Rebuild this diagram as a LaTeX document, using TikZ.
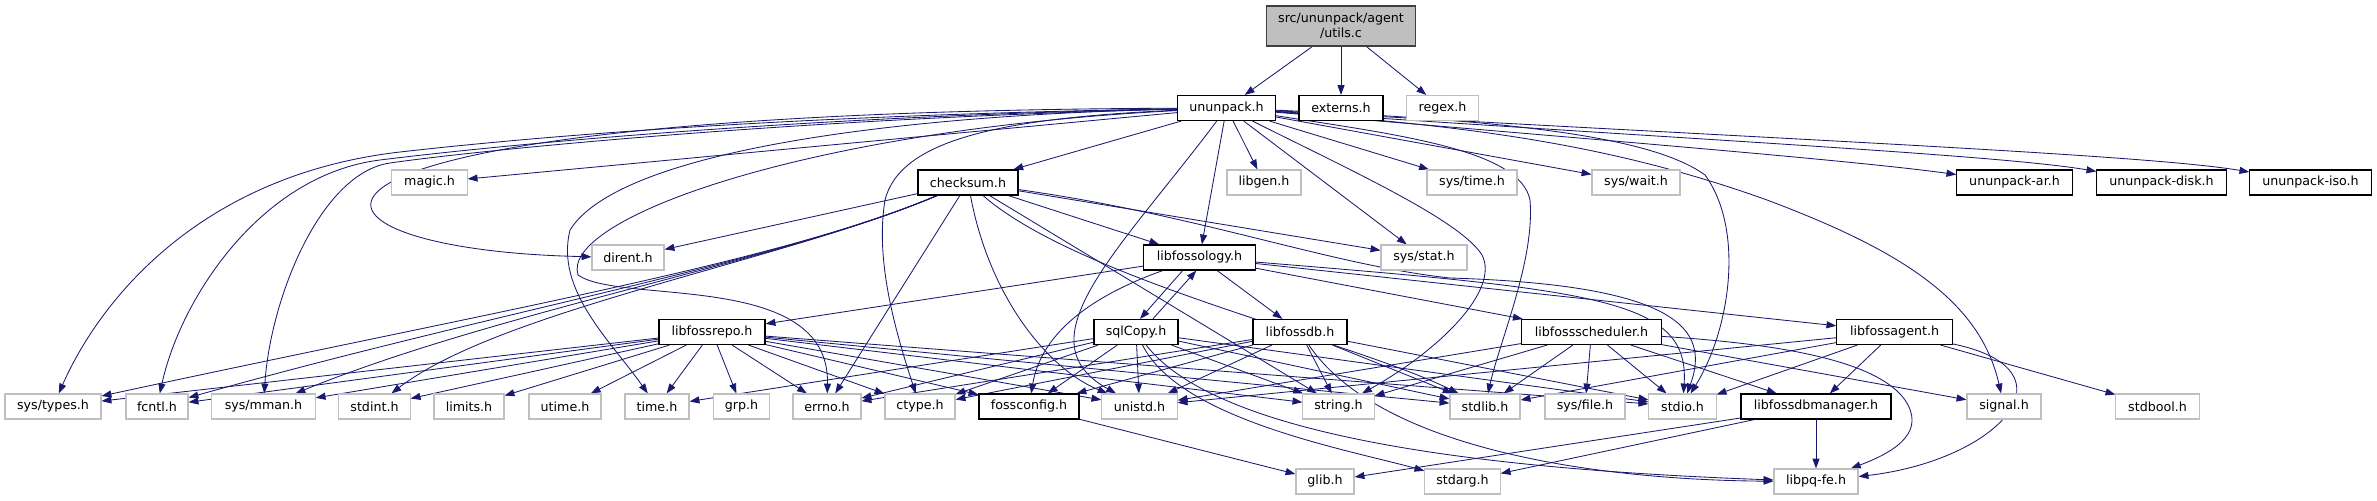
\documentclass[tikz,border=0pt]{standalone}
\usepackage{fontspec}
\setmainfont{DejaVu Sans}
\usetikzlibrary{arrows.meta,backgrounds}
\definecolor{edgeblue}{HTML}{191970}
\definecolor{sysgray}{HTML}{BFBFBF}
\definecolor{rootgray}{HTML}{404040}

\begin{document}
\begin{tikzpicture}[x=0.025cm, y=-0.025cm,
    every node/.style={rectangle, fill=white, inner sep=0pt, minimum height=0.625cm,
      font=\fontsize{9}{10.5}\selectfont},
    hdr/.style={draw=black, line width=0.8pt},
    sys/.style={draw=sysgray, line width=0.8pt},
    dep/.style={draw=edgeblue, line width=0.6pt, -{Triangle[length=7pt,width=5pt]}}]
    \useasboundingbox (0,0) rectangle (2377,500);

    % file and its direct includes
    \node[draw=rootgray, fill=sysgray, line width=0.8pt, align=center, minimum width=3.73cm, minimum height=1cm]
      (root) at (1341,26) {src/ununpack/agent\\/utils.c};
    \node[hdr, minimum width=2.43cm] (ununpack) at (1226.5,108) {ununpack.h};
    \node[hdr, minimum width=2.1cm] (externs) at (1341,108) {externs.h};
    \node[sys, minimum width=1.78cm] (regex) at (1442.5,108) {regex.h};

    % second row
    \node[sys, minimum width=1.88cm] (magic) at (429.5,182.5) {magic.h};
    \node[hdr, minimum width=2.5cm] (checksum) at (968,182.5) {checksum.h};
    \node[sys, minimum width=1.85cm] (libgen) at (1264,182.5) {libgen.h};
    \node[sys, minimum width=2.25cm] (systime) at (1472,182.5) {sys/time.h};
    \node[sys, minimum width=2.2cm] (syswait) at (1636,182.5) {sys/wait.h};
    \node[hdr, minimum width=2.88cm] (ar) at (2014.5,182.5) {ununpack-ar.h};
    \node[hdr, minimum width=3.23cm] (disk) at (2161.5,182.5) {ununpack-disk.h};
    \node[hdr, minimum width=3.03cm] (iso) at (2310.5,182.5) {ununpack-iso.h};

    % third row
    \node[sys, minimum width=1.8cm] (dirent) at (628,257.5) {dirent.h};
    \node[hdr, minimum width=2.78cm] (libfossology) at (1199.5,257.5) {libfossology.h};
    \node[sys, minimum width=2.15cm] (sysstat) at (1424,257.5) {sys/stat.h};

    % fourth row
    \node[hdr, minimum width=2.65cm] (libfossrepo) at (712,332) {libfossrepo.h};
    \node[hdr, minimum width=2.1cm] (sqlCopy) at (1136,332) {sqlCopy.h};
    \node[hdr, minimum width=2.35cm] (libfossdb) at (1300,332) {libfossdb.h};
    \node[hdr, minimum width=3.48cm] (libfossscheduler) at (1591.5,332) {libfossscheduler.h};
    \node[hdr, minimum width=2.88cm] (libfossagent) at (1894.5,332) {libfossagent.h};

    % fifth row
    \node[sys, minimum width=2.4cm] (systypes) at (53,406.5) {sys/types.h};
    \node[sys, minimum width=1.55cm] (fcntl) at (157,406.5) {fcntl.h};
    \node[sys, minimum width=2.58cm] (sysmman) at (263.5,406.5) {sys/mman.h};
    \node[sys, minimum width=1.78cm] (stdint) at (374.5,406.5) {stdint.h};
    \node[sys, minimum width=1.75cm] (limits) at (469,406.5) {limits.h};
    \node[sys, minimum width=1.8cm] (utime) at (565,406.5) {utime.h};
    \node[sys, minimum width=1.6cm] (time) at (657,406.5) {time.h};
    \node[sys, minimum width=1.38cm] (grp) at (741.5,406.5) {grp.h};
    \node[sys, minimum width=1.7cm] (errno) at (827,406.5) {errno.h};
    \node[sys, minimum width=1.75cm] (ctype) at (920,406.5) {ctype.h};
    \node[hdr, minimum width=2.5cm] (fossconfig) at (1029,406.5) {fossconfig.h};
    \node[sys, minimum width=1.88cm] (unistd) at (1139.5,406.5) {unistd.h};
    \node[sys, minimum width=1.78cm] (string) at (1338.5,406.5) {string.h};
    \node[sys, minimum width=1.75cm] (stdlib) at (1485,406.5) {stdlib.h};
    \node[sys, minimum width=2cm] (sysfile) at (1585,406.5) {sys/file.h};
    \node[sys, minimum width=1.68cm] (stdio) at (1682.5,406.5) {stdio.h};
    \node[hdr, minimum width=3.75cm] (libfossdbmanager) at (1816,406.5) {libfossdbmanager.h};
    \node[sys, minimum width=1.85cm] (signal) at (2004,406.5) {signal.h};
    \node[sys, minimum width=2.08cm] (stdbool) at (2157.5,406.5) {stdbool.h};

    % last row
    \node[sys, minimum width=1.45cm] (glib) at (1325,481.5) {glib.h};
    \node[sys, minimum width=1.88cm] (stdarg) at (1462.5,481.5) {stdarg.h};
    \node[sys, minimum width=2.1cm] (libpqfe) at (1816,481.5) {libpq-fe.h};

    \begin{scope}[on background layer]
    % utils.c
    \foreach \dst in {ununpack,externs,regex}
      \draw[dep] (root) -- (\dst);

    % ununpack.h
    \foreach \dst in {checksum,libfossology,libgen,systime,syswait,sysstat,magic}
      \draw[dep] (ununpack) -- (\dst);
    \draw[dep] (ununpack) .. controls (800,115) and (550,135) .. (400,152)
      .. controls (200,175) and (100,300) .. (systypes);
    \draw[dep] (ununpack) .. controls (800,116) and (500,145) .. (380,160)
      .. controls (260,175) and (180,300) .. (fcntl);
    \draw[dep] (ununpack) .. controls (800,118) and (480,150) .. (390,163)
      .. controls (320,173) and (270,300) .. (sysmman);
    \draw[dep] (ununpack) .. controls (200,112) and (260,250) .. (dirent);
    \draw[dep] (ununpack) .. controls (900,115) and (620,150) .. (570,230)
      .. controls (555,290) and (610,340) .. (time);
    \draw[dep] (ununpack) .. controls (800,130) and (560,220) .. (578,275)
      .. controls (620,305) and (830,270) .. (errno);
    \draw[dep] (ununpack) .. controls (1000,118) and (900,140) .. (885,200)
      .. controls (875,260) and (895,330) .. (ctype);
    \draw[dep] (ununpack) .. controls (1120,250) and (1020,340) .. (unistd);
    \draw[dep] (ununpack) .. controls (1400,135) and (1520,150) .. (1530,200)
      .. controls (1535,260) and (1500,340) .. (stdlib);
    \draw[dep] (ununpack) .. controls (1350,170) and (1460,220) .. (1482,255)
      .. controls (1500,290) and (1440,350) .. (string);
    \draw[dep] (ununpack) .. controls (1500,120) and (1650,135) .. (1705,175)
      .. controls (1745,230) and (1730,330) .. (stdio);
    \draw[dep] (ununpack) .. controls (1450,125) and (1600,140) .. (1767,200)
      .. controls (1900,250) and (1980,300) .. (signal);
    \draw[dep] (ununpack) .. controls (1600,140) and (1850,160) .. (ar);
    \draw[dep] (ununpack) .. controls (1700,140) and (2000,155) .. (disk);
    \draw[dep] (ununpack) .. controls (1800,140) and (2150,155) .. (iso);

    % checksum.h
    \foreach \dst in {libfossology,dirent,errno,string,sysstat}
      \draw[dep] (checksum) -- (\dst);
    \foreach \dst in {systypes,fcntl,sysmman,stdint}
      \draw[dep] (checksum) .. controls (780,262) and (500,310) .. (\dst);
    \draw[dep] (checksum) .. controls (990,300) and (1050,370) .. (unistd);
    \draw[dep] (checksum) .. controls (1080,280) and (1350,340) .. (stdlib);
    \draw[dep] (checksum) .. controls (1200,215) and (1330,265) .. (1450,278)
      .. controls (1680,285) and (1710,330) .. (stdio);

    % libfossology.h
    \foreach \dst in {libfossrepo,libfossdb,libfossscheduler,libfossagent}
      \draw[dep] (libfossology) -- (\dst);
    \draw[dep] ([xshift=-0.42cm]libfossology.south) -- ([xshift=0.1cm]sqlCopy.north);
    \draw[dep] ([xshift=0.42cm]sqlCopy.north) -- ([xshift=-0.08cm]libfossology.south);
    \draw[dep] (libfossology) .. controls (1080,300) and (1040,340) .. (fossconfig);
    \draw[dep] (libfossology) .. controls (1600,290) and (1690,300) .. (stdio);

    % sqlCopy.h
    \foreach \dst in {time,errno,ctype,fossconfig,unistd,string,stdlib,stdio}
      \draw[dep] (sqlCopy) -- (\dst);
    \draw[dep] (sqlCopy) .. controls (1180,420) and (1350,450) .. (stdarg);
    \draw[dep] (sqlCopy) .. controls (1220,440) and (1500,470) .. (libpqfe);

    % libfossrepo.h
    \foreach \dst in {systypes,fcntl,sysmman,stdint,limits,utime,time,grp,errno,ctype,fossconfig,unistd,string,stdlib,stdio}
      \draw[dep] (libfossrepo) -- (\dst);

    % libfossdb.h
    \foreach \dst in {errno,ctype,unistd,fossconfig,string,stdlib,stdio}
      \draw[dep] (libfossdb) -- (\dst);
    \draw[dep] (libfossdb) .. controls (1380,450) and (1600,480) .. (libpqfe);

    % libfossscheduler.h
    \foreach \dst in {libfossdbmanager,stdio,stdlib,sysfile,string,unistd,signal}
      \draw[dep] (libfossscheduler) -- (\dst);
    \draw[dep] (libfossscheduler) .. controls (1800,345) and (1880,365) .. (1905,400)
      .. controls (1925,430) and (1900,450) .. (libpqfe);

    % libfossagent.h
    \foreach \dst in {stdio,libfossdbmanager,stdbool,unistd,stdlib}
      \draw[dep] (libfossagent) -- (\dst);
    \draw[dep] (libfossagent) .. controls (2080,370) and (2000,460) .. (libpqfe);

    % libfossdbmanager.h and fossconfig.h
    \foreach \dst in {libpqfe,glib,stdarg}
      \draw[dep] (libfossdbmanager) -- (\dst);
    \draw[dep] (fossconfig) -- (glib);
    \end{scope}
\end{tikzpicture}
\end{document}
